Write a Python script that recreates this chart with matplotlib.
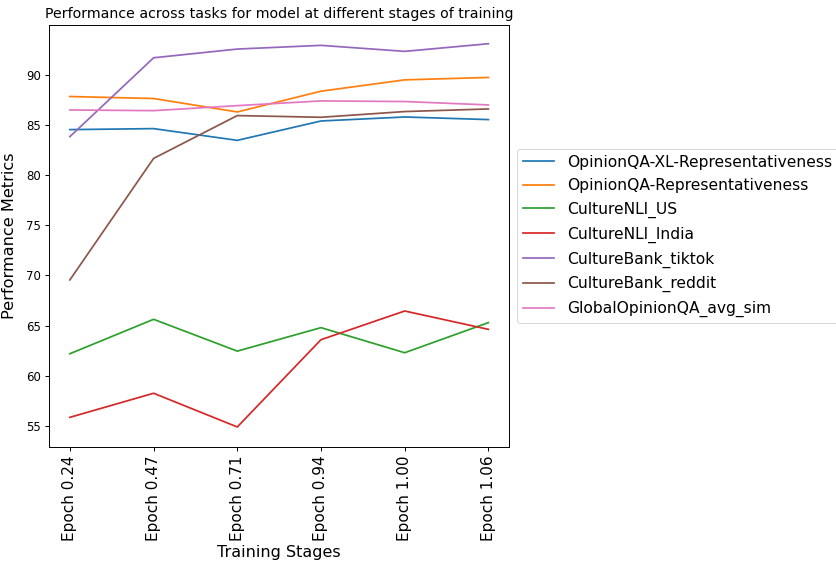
import matplotlib
matplotlib.use("Agg")
import matplotlib.pyplot as plt

stages = ["Epoch 0.24", "Epoch 0.47", "Epoch 0.71", "Epoch 0.94", "Epoch 1.00", "Epoch 1.06"]

opinionqa_xl = [84.54, 84.64, 83.47, 85.40, 85.80, 85.54]
opinionqa = [87.84, 87.64, 86.30, 88.37, 89.50, 89.74]
culturenli_us = [62.20, 65.63, 62.46, 64.80, 62.30, 65.30]
culturenli_india = [55.86, 58.26, 54.90, 63.60, 66.46, 64.63]
culturebank_tiktok = [83.84, 91.70, 92.57, 92.94, 92.34, 93.10]
culturebank_reddit = [69.56, 81.67, 85.94, 85.77, 86.34, 86.60]
globalopinionqa = [86.50, 86.43, 86.93, 87.40, 87.34, 87.00]

series = [
    ("OpinionQA-XL-Representativeness", opinionqa_xl),
    ("OpinionQA-Representativeness", opinionqa),
    ("CultureNLI_US", culturenli_us),
    ("CultureNLI_India", culturenli_india),
    ("CultureBank_tiktok", culturebank_tiktok),
    ("CultureBank_reddit", culturebank_reddit),
    ("GlobalOpinionQA_avg_sim", globalopinionqa),
]

plt.rcParams["axes.linewidth"] = 0.7
plt.rcParams["xtick.major.width"] = 0.7
plt.rcParams["ytick.major.width"] = 0.7
plt.rcParams["xtick.major.size"] = 3
plt.rcParams["ytick.major.size"] = 3

fig = plt.figure(figsize=(8.37, 5.64), dpi=100)
ax = fig.add_axes([0.0585, 0.2074, 0.5500, 0.7483])

for label, values in series:
    ax.plot(stages, values, label=label, linewidth=1.25)

ax.set_ylim(52.9, 94.97)
ax.set_title("Performance across tasks for model at different stages of training", fontsize=10.2, pad=5)
ax.set_xlabel("Training Stages", fontsize=11.5, labelpad=3)
ax.set_ylabel("Performance Metrics", fontsize=11.6, labelpad=6)
ax.tick_params(axis="x", labelsize=11.0, labelrotation=90, pad=3)
ax.tick_params(axis="y", labelsize=8.5, pad=3)
leg = ax.legend(loc="center left", bbox_to_anchor=(1.0, 0.5), fontsize=11.2,
                handlelength=2.0, borderaxespad=0.5, labelspacing=0.55)
leg.get_frame().set_linewidth(0.7)

fig.savefig("out.png", dpi=100)
